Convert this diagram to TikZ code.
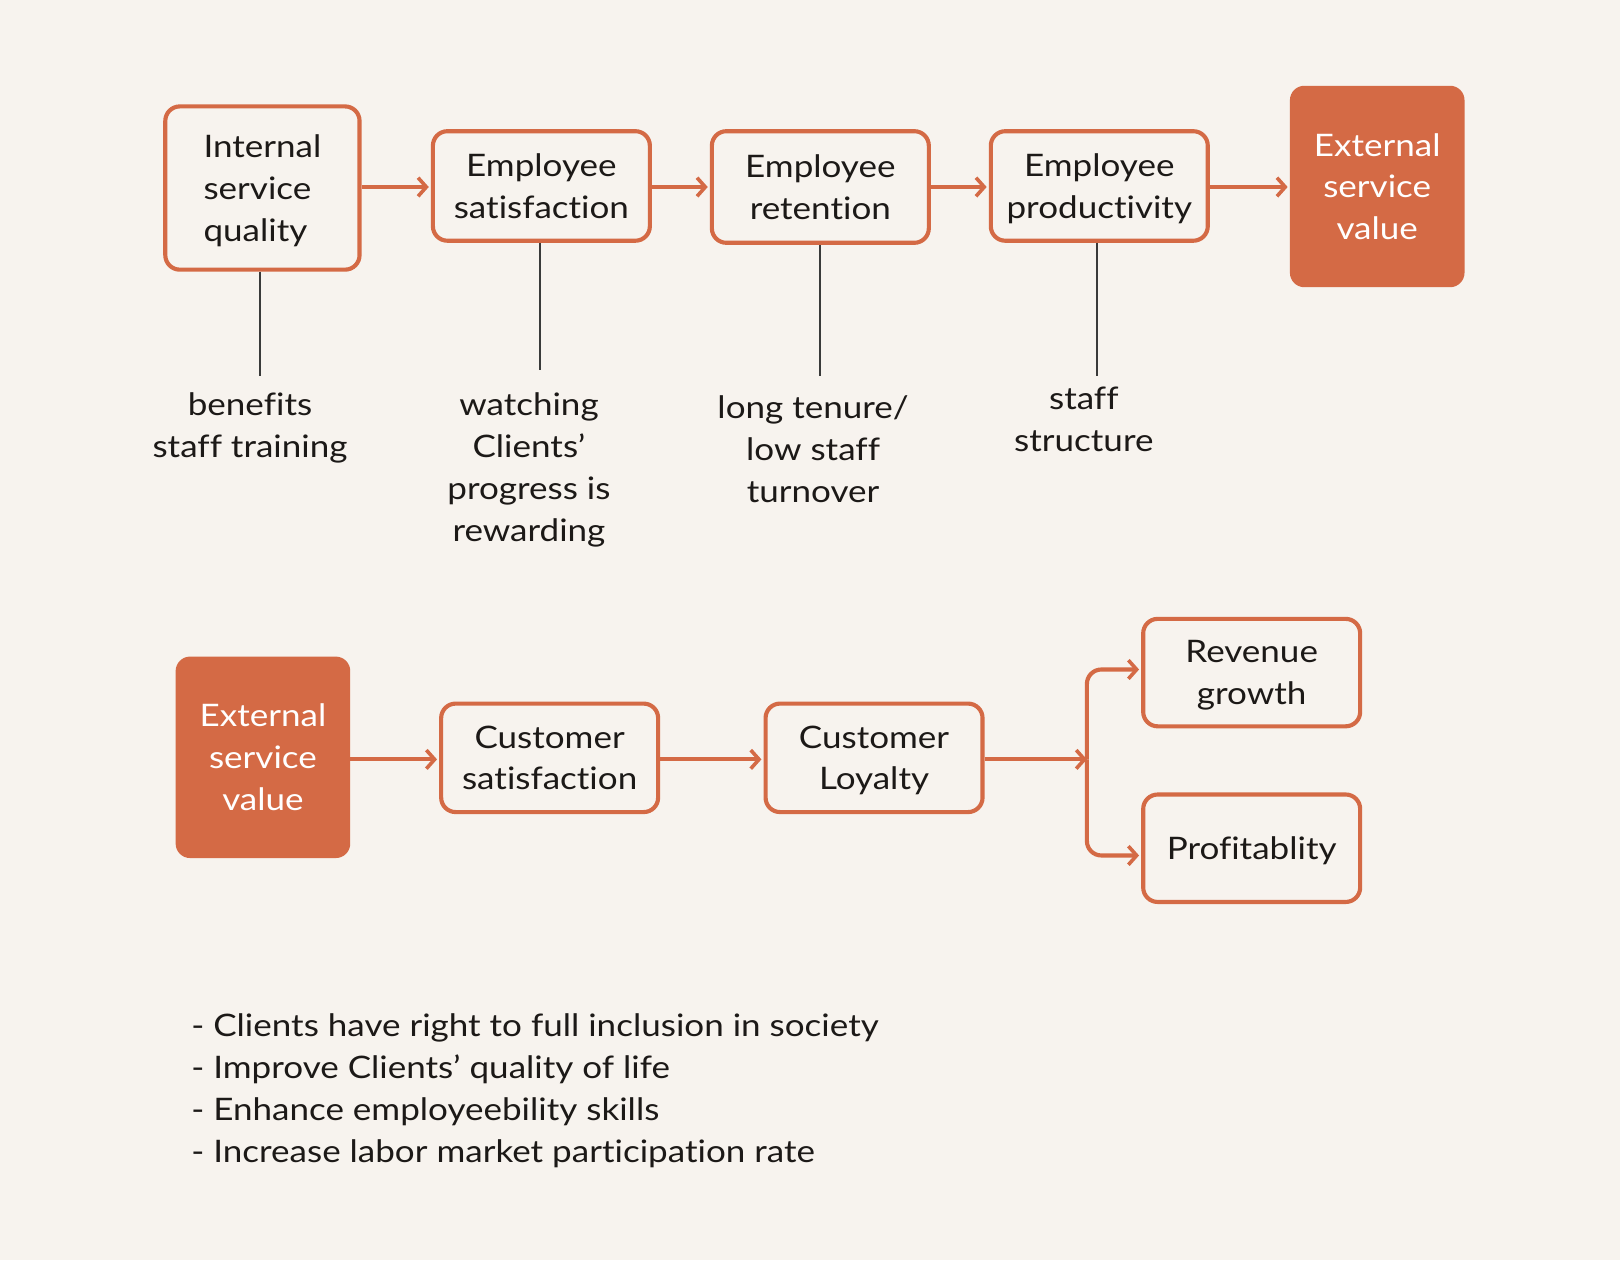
\documentclass[tikz,border=0pt]{standalone}
\usepackage{fontspec}
\setmainfont{Lato}[FakeStretch=1.13,Ligatures=NoCommon]
\usetikzlibrary{arrows.meta}
\definecolor{acc}{HTML}{D46A45}
\definecolor{bg}{HTML}{F7F3EE}
\definecolor{ink}{HTML}{1C1917}
\definecolor{stemc}{HTML}{3A3A3A}
\begin{document}
\begin{tikzpicture}[x=1pt,y=-1pt,
  txt/.style={text=ink,font=\fontsize{30}{40.5}\selectfont,align=center,inner sep=0pt},
  box/.style={txt,draw=acc,line width=4pt,rounded corners=14pt,fill=bg,minimum width=210pt,minimum height=106pt,text depth=0pt},
  fbox/.style={txt,fill=acc,text=white,rounded corners=14pt,minimum width=169pt,minimum height=195pt,text depth=0pt},
  arr/.style={draw=acc,line width=4pt,-{Straight Barb[length=8pt,width=18pt,line width=3.5pt]},shorten >=2pt},
  stemline/.style={draw=stemc,line width=2pt},
  lab/.style={txt}]
\fill[bg] (0,0) rectangle (1568,1220);
\useasboundingbox (0,0) rectangle (1568,1220);
% top row
\node[box,align=left,minimum width=188pt,minimum height=158pt] (isq) at (254,182) {Internal\\service\\quality};
\node[box] (esat) at (524,180) {Employee\\satisfaction};
\node[box,minimum height=108pt] (eret) at (794,181) {Employee\\retention};
\node[box] (eprod) at (1064,180) {Employee\\productivity};
\node[fbox] (esv1) at (1333,180.5) {External\\service\\value};
\draw[arr] (isq.east |- 0,181) -- (esat.west |- 0,181);
\draw[arr] (esat.east |- 0,181) -- (eret.west |- 0,181);
\draw[arr] (eret.east |- 0,181) -- (eprod.west |- 0,181);
\draw[arr] (eprod.east |- 0,181) -- (esv1.west |- 0,181);
% labels
\node[lab] (l1) at (242,414.5) {benefits\\staff training};
\node[lab] (l2) at (512,455) {watching\\Clients’\\progress is\\rewarding};
\node[lab] (l3) at (787,434.5) {long tenure/\\low staff\\turnover};
\node[lab] (l4) at (1049,406) {staff\\structure};
\coordinate (s1) at (252,364);
\coordinate (s2) at (523,358);
\coordinate (s3) at (794,364);
\coordinate (s4) at (1062,364);
\draw[stemline] (s1 |- isq.south) -- (s1);
\draw[stemline] (s2 |- esat.south) -- (s2);
\draw[stemline] (s3 |- eret.south) -- (s3);
\draw[stemline] (s4 |- eprod.south) -- (s4);
% bottom row
\node[fbox] (esv2) at (254.5,733) {External\\service\\value};
\node[box,minimum height=105pt] (csat) at (532,733.5) {Customer\\satisfaction};
\node[box,minimum height=105pt] (cloy) at (846,733.5) {Customer\\Loyalty};
\node[box,minimum height=104pt] (rev) at (1211.5,651) {Revenue\\growth};
\node[box,minimum height=104pt] (prof) at (1211.5,821) {Profitablity};
\coordinate (br) at (1052,735);
\draw[arr] (esv2.east |- 0,735) -- (csat.west |- 0,735);
\draw[arr] (csat.east |- 0,735) -- (cloy.west |- 0,735);
\draw[arr,shorten >=0pt] (cloy.east |- 0,735) -- (br);
\draw[arr,rounded corners=14pt] (br) |- (rev.west |- 0,648);
\draw[arr,rounded corners=14pt] (br) |- (prof.west |- 0,828);
% bullet list
\node[txt,align=left,anchor=north west] (list) at (185,981) {- Clients have right to full inclusion in society\\- Improve Clients’ quality of life\\- Enhance employeebility skills\\- Increase labor market participation rate};
\end{tikzpicture}
\end{document}
